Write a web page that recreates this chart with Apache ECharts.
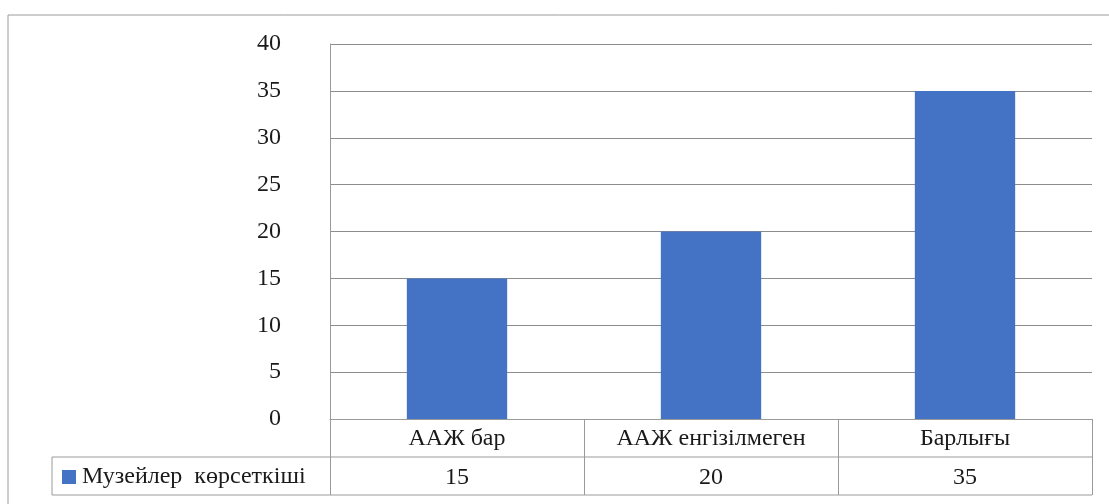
<!DOCTYPE html>
<html>
<head>
<meta charset="utf-8">
<script src="https://cdn.jsdelivr.net/npm/echarts@6/dist/echarts.min.js"></script>
<style>
html,body{margin:0;padding:0;background:#fff;}
#chart{width:1109px;height:504px;}
</style>
</head>
<body>
<div id="chart"></div>
<script>
var categories = ['ААЖ бар', 'ААЖ енгізілмеген', 'Барлығы'];
var seriesName = 'Музейлер  көрсеткіші';
var values = [15, 20, 35];
var yTicks = {min: 0, max: 40, interval: 5};

var FONT = '"Liberation Serif", "Times New Roman", serif';
var FS = 24;
var TXT = '#1a1a1a';
var LINE = '#9a9a9a';

var chart = echarts.init(document.getElementById('chart'), null, {renderer: 'canvas'});

var gridL = 330, gridT = 44, gridW = 762, gridH = 375;
var rowH = 38;

function hline(x1, x2, y) {
  return {type: 'line', shape: {x1: x1, y1: y, x2: x2, y2: y}, style: {stroke: LINE, lineWidth: 1}, silent: true};
}
function vline(x, y1, y2) {
  return {type: 'line', shape: {x1: x, y1: y1, x2: x, y2: y2}, style: {stroke: LINE, lineWidth: 1}, silent: true};
}

chart.setOption({
  animation: false,
  backgroundColor: '#fff',
  grid: {left: gridL, top: gridT, width: gridW, height: gridH, containLabel: false},
  legend: {
    data: [seriesName],
    left: 62, top: gridT + gridH + rowH + 8,
    icon: 'rect', itemWidth: 14, itemHeight: 14, itemGap: 0,
    padding: 0,
    textStyle: {fontFamily: FONT, fontSize: FS, color: TXT, padding: [0, 0, 0, 1]},
    selectedMode: false
  },
  xAxis: [
    {
      type: 'category', data: categories, gridIndex: 0, position: 'bottom',
      axisLine: {show: true, lineStyle: {color: LINE}},
      axisTick: {show: true, length: rowH * 2, lineStyle: {color: LINE}},
      axisLabel: {fontFamily: FONT, fontSize: FS, color: TXT, margin: 8},
      splitLine: {show: false}
    },
    {
      type: 'category', data: values.map(String), gridIndex: 0, position: 'bottom', offset: rowH,
      axisLine: {show: false}, axisTick: {show: false},
      axisLabel: {fontFamily: FONT, fontSize: FS, color: TXT, margin: 9},
      splitLine: {show: false}
    }
  ],
  yAxis: {
    type: 'value', min: yTicks.min, max: yTicks.max, interval: yTicks.interval,
    axisLine: {show: true, lineStyle: {color: LINE}},
    axisTick: {show: false},
    axisLabel: {fontFamily: FONT, fontSize: FS, color: TXT, margin: 49, padding: [4, 0, 0, 0]},
    splitLine: {show: true, lineStyle: {color: '#8c8c8c', width: 1}}
  },
  series: [{
    name: seriesName, type: 'bar', data: values, xAxisIndex: 0,
    barWidth: '39.5%',
    itemStyle: {color: '#4472C4'}
  }],
  graphic: [
    hline(8, 1109, 15),
    vline(8, 15, 504),
    hline(52, gridL + gridW, gridT + gridH + rowH),
    hline(52, gridL + gridW, gridT + gridH + rowH * 2),
    vline(52, gridT + gridH + rowH, gridT + gridH + rowH * 2)
  ]
});
</script>
</body>
</html>
